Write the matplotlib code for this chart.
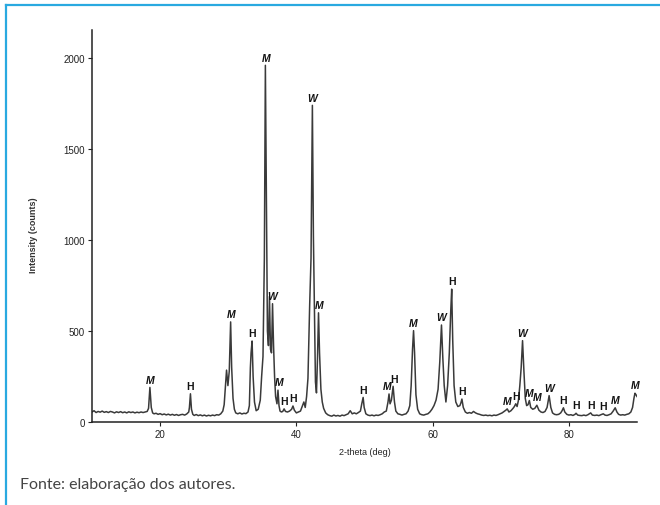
import matplotlib
matplotlib.use("Agg")
import matplotlib.pyplot as plt
from matplotlib.lines import Line2D

# ---- data (2-theta in deg, intensity in counts) ----
two_theta = [
    10.0, 10.3, 10.6, 10.9, 11.2, 11.5, 11.8, 12.1, 12.4, 12.7, 13.0, 13.3, 13.6, 13.9,
    14.2, 14.5, 14.8, 15.1, 15.4, 15.7, 16.0, 16.3, 16.6, 16.9, 17.2, 17.5, 17.8, 18.1,
    18.3, 18.5, 18.7, 18.9, 19.1, 19.4, 19.7, 20.0, 20.3, 20.6, 20.9, 21.2, 21.5, 21.8,
    22.1, 22.4, 22.7, 23.0, 23.3, 23.6, 23.9, 24.2, 24.3, 24.45, 24.6, 24.8, 25.0, 25.3,
    25.6, 25.9, 26.2, 26.5, 26.8, 27.1, 27.4, 27.7, 28.0, 28.3, 28.6, 28.9, 29.2, 29.4,
    29.6, 29.75, 29.95, 30.15, 30.35, 30.5, 30.7, 30.9, 31.1, 31.4, 31.7, 32.0, 32.3, 32.6,
    32.9, 33.1, 33.25, 33.35, 33.5, 33.65, 33.85, 34.1, 34.4, 34.7, 34.9, 35.1, 35.3, 35.45,
    35.6, 35.75, 35.9, 36.05, 36.2, 36.35, 36.5, 36.65, 36.8, 36.95, 37.15, 37.3, 37.45, 37.6,
    37.8, 38.0, 38.2, 38.4, 38.7, 39.0, 39.3, 39.5, 39.7, 40.0, 40.3, 40.6, 40.9, 41.1,
    41.3, 41.5, 41.7, 41.95, 42.15, 42.35, 42.5, 42.65, 42.8, 42.95, 43.1, 43.25, 43.4, 43.6,
    43.8, 44.0, 44.3, 44.6, 44.9, 45.2, 45.5, 45.8, 46.1, 46.4, 46.7, 47.0, 47.3, 47.6,
    47.9, 48.2, 48.5, 48.8, 49.1, 49.4, 49.6, 49.8, 49.95, 50.2, 50.5, 50.8, 51.1, 51.4,
    51.7, 52.0, 52.3, 52.6, 52.9, 53.2, 53.45, 53.6, 53.75, 53.95, 54.2, 54.4, 54.6, 54.9,
    55.2, 55.5, 55.8, 56.1, 56.4, 56.65, 56.85, 57.05, 57.2, 57.35, 57.55, 57.8, 58.1, 58.4,
    58.7, 59.0, 59.3, 59.6, 59.9, 60.2, 60.5, 60.8, 61.05, 61.3, 61.5, 61.7, 61.95, 62.2,
    62.45, 62.65, 62.8, 62.95, 63.15, 63.4, 63.7, 64.0, 64.15, 64.3, 64.5, 64.8, 65.1, 65.4,
    65.7, 66.0, 66.3, 66.6, 66.9, 67.2, 67.5, 67.8, 68.1, 68.4, 68.7, 69.0, 69.3, 69.6,
    69.9, 70.2, 70.5, 70.75, 70.95, 71.2, 71.5, 71.8, 72.0, 72.2, 72.4, 72.6, 72.8, 73.0,
    73.2, 73.4, 73.6, 73.8, 74.0, 74.2, 74.4, 74.7, 75.0, 75.3, 75.6, 75.9, 76.2, 76.5,
    76.8, 77.1, 77.35, 77.6, 77.9, 78.2, 78.5, 78.8, 79.0, 79.2, 79.4, 79.7, 80.0, 80.3,
    80.6, 80.9, 81.05, 81.3, 81.6, 81.9, 82.2, 82.5, 82.8, 83.0, 83.2, 83.45, 83.8, 84.1,
    84.4, 84.7, 85.05, 85.3, 85.6, 85.9, 86.2, 86.5, 86.8, 87.05, 87.3, 87.6, 87.9, 88.2,
    88.5, 88.8, 89.1, 89.35, 89.55, 89.7, 89.85, 90.0,
]
intensity = [
    55, 62, 52, 58, 54, 60, 53, 57, 52, 58, 55, 50, 56, 52,
    57, 51, 55, 50, 56, 52, 55, 50, 54, 51, 55, 52, 55, 58,
    75, 190, 80, 50, 45, 48, 42, 46, 40, 44, 39, 43, 38, 42,
    37, 41, 36, 40, 42, 38, 44, 55, 80, 155, 70, 42, 36, 41,
    35, 39, 34, 38, 33, 37, 34, 38, 35, 40, 38, 45, 60, 95,
    200, 285, 200, 280, 550, 300, 130, 70, 50, 45, 50, 44, 48, 46,
    55, 90, 300, 380, 445, 250, 110, 62, 70, 120, 250, 360, 900, 1960,
    1200, 500, 420, 690, 400, 380, 650, 420, 250, 140, 100, 175, 90, 60,
    55, 58, 72, 58, 55, 60, 70, 88, 65, 50, 55, 60, 90, 110,
    80, 140, 240, 640, 900, 1740, 1020, 600, 220, 160, 350, 600, 380, 180,
    110, 75, 50, 40, 35, 32, 38, 33, 36, 32, 38, 35, 40, 45,
    62, 45, 50, 45, 52, 60, 100, 135, 80, 45, 38, 35, 38, 34,
    38, 36, 40, 45, 55, 60, 110, 154, 100, 120, 196, 110, 60, 45,
    42, 38, 42, 45, 60, 90, 200, 400, 502, 380, 150, 70, 45, 40,
    38, 42, 45, 55, 70, 90, 120, 180, 330, 533, 350, 200, 110, 200,
    380, 600, 730, 450, 200, 110, 85, 90, 105, 126, 80, 55, 48, 52,
    48, 58, 50, 45, 42, 38, 36, 38, 35, 37, 34, 38, 36, 40,
    45, 50, 58, 65, 72, 55, 62, 75, 85, 100, 85, 120, 200, 300,
    447, 280, 130, 90, 95, 118, 80, 70, 75, 92, 65, 55, 52, 58,
    80, 145, 80, 50, 42, 40, 42, 50, 62, 78, 55, 42, 38, 40,
    36, 42, 48, 38, 36, 35, 38, 35, 40, 45, 50, 38, 36, 38,
    35, 40, 45, 38, 36, 40, 45, 60, 78, 55, 42, 38, 40, 38,
    42, 45, 55, 80, 130, 158, 150, 140,
]

# phase labels: M = magnetite, H = hematite, W = wustite
label_text = ["M", "H", "M", "H", "M", "W", "M", "H", "H", "W", "M", "H", "M", "H", "M",
              "W", "H", "H", "M", "H", "W", "M", "M", "W", "H", "H", "H", "H", "M", "M"]
label_x = [18.5, 24.45, 30.35, 33.5, 35.6, 36.5, 37.45, 38.2, 39.5, 42.35, 43.3, 49.8, 53.3,
           54.4, 57.2, 61.3, 62.8, 64.3, 70.95, 72.2, 73.2, 74.2, 75.3, 77.1, 79.2, 81.05,
           83.2, 85.05, 86.8, 89.7]
label_y = [190, 155, 550, 445, 1960, 650, 175, 72, 88, 1740, 600, 135, 154, 196, 502,
           533, 730, 126, 72, 100, 447, 118, 92, 145, 78, 48, 50, 45, 78, 158]

y_ticks = [0, 500, 1000, 1500, 2000]
x_ticks = [20, 40, 60, 80]

# ---- figure ----
fig = plt.figure(figsize=(6.6, 5.06), dpi=100)
fig.patch.set_facecolor("white")

ax = fig.add_axes([92 / 660, 1 - 423 / 506, 545 / 660, 392 / 506])
ax.plot(two_theta, intensity, color="#3a3a3a", lw=1.1)
ax.set_xlim(10, 90)
ax.set_ylim(0, 2154)

for s in ["top", "right"]:
    ax.spines[s].set_visible(False)
for s in ["left", "bottom"]:
    ax.spines[s].set_linewidth(1.1)
    ax.spines[s].set_color("#222222")

ax.set_xticks(x_ticks)
ax.set_yticks(y_ticks)
ax.tick_params(axis="both", direction="out", length=3, width=0.8, color="#222222",
               labelsize=7, pad=2, labelcolor="#222222")
for lab in ax.get_xticklabels() + ax.get_yticklabels():
    lab.set_fontfamily("Liberation Sans")

for t, x, y in zip(label_text, label_x, label_y):
    ax.annotate(t, (x, y), xytext=(0, 2), textcoords="offset points", ha="center",
                va="bottom", fontsize=7.5, fontweight="bold",
                fontstyle="italic" if t != "H" else "normal",
                family="Liberation Sans", color="#111111")

ax.text(0.5, -0.074, "2-theta (deg)", transform=ax.transAxes, ha="center", va="center",
        fontsize=6.5, family="Liberation Sans", color="#222222")
ax.text(-0.108, 0.48, "Intensity (counts)", transform=ax.transAxes, ha="center",
        va="center", rotation=90, fontsize=6.5, family="Liberation Sans",
        fontweight="bold", color="#333333")

# caption
fig.text(20 / 660, 1 - 485 / 506, "Fonte: elaboração dos autores.", ha="left",
         va="center", fontsize=11.5, family=["Lato", "DejaVu Sans"], fontweight="normal",
         color="#444444")

# blue frame (top and left edges)
blue = "#29a9e0"
fig.add_artist(Line2D([6 / 660, 1.0], [1 - 6 / 506, 1 - 6 / 506], transform=fig.transFigure,
                      color=blue, lw=1.6))
fig.add_artist(Line2D([6 / 660, 6 / 660], [0.0, 1 - 6 / 506], transform=fig.transFigure,
                      color=blue, lw=1.6))

fig.savefig("out.png", dpi=100)
